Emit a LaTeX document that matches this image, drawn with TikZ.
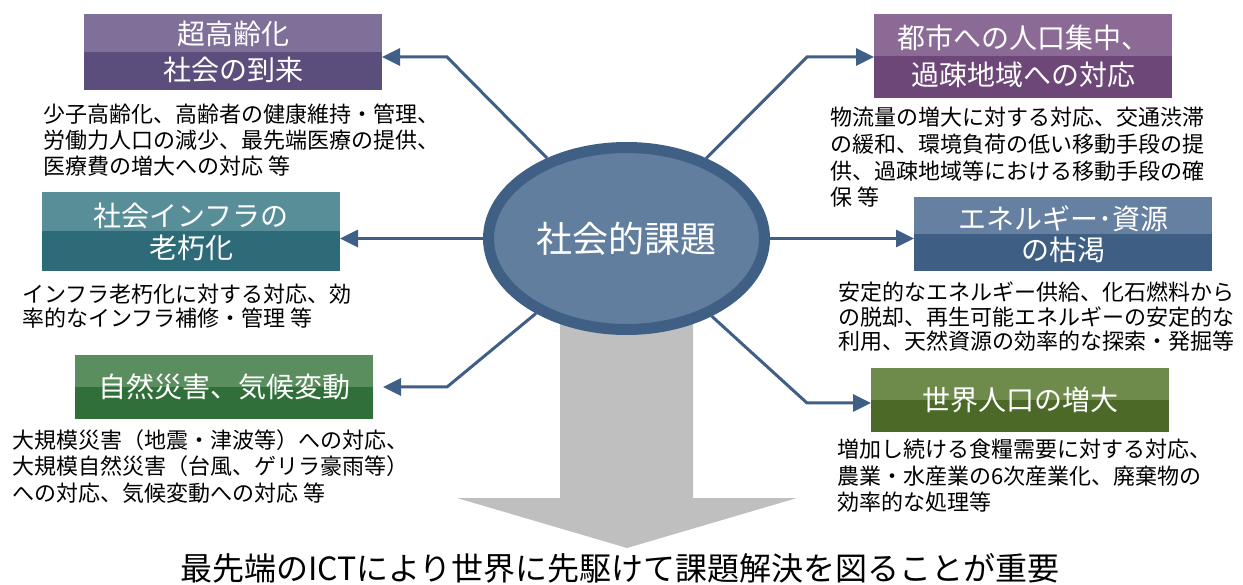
\documentclass[tikz,border=0pt]{standalone}
\usepackage{fontspec}
\setmainfont{Noto Sans CJK JP}
\usetikzlibrary{arrows.meta,shapes.geometric}
\definecolor{aT}{HTML}{7F7099}\definecolor{aB}{HTML}{5C4E7C}
\definecolor{bT}{HTML}{8B6B95}\definecolor{bB}{HTML}{6C4777}
\definecolor{cT}{HTML}{588E98}\definecolor{cB}{HTML}{2E6B78}
\definecolor{dT}{HTML}{6580A1}\definecolor{dB}{HTML}{3F5E83}
\definecolor{eT}{HTML}{5A8E5F}\definecolor{eB}{HTML}{306F39}
\definecolor{fT}{HTML}{6E8B4C}\definecolor{fB}{HTML}{4C6928}
\definecolor{lineb}{HTML}{3F5F87}
\definecolor{ellf}{HTML}{627E9E}
\definecolor{ellb}{HTML}{3F5F85}
\definecolor{grayarr}{HTML}{BFBFBF}
\tikzset{
  tbox/.style 2 args={fill=#2, minimum width=298pt, inner sep=0pt, outer sep=0pt,
    text=white, align=center, font=\fontsize{28}{36}\selectfont,
    path picture={\fill[#1] (path picture bounding box.north west) rectangle (path picture bounding box.east);}},
  desc/.style={anchor=north west, inner sep=0pt, align=left, text=black, font=\fontsize{22}{26}\selectfont},
  conn/.style={draw=lineb, line width=3pt, -{Triangle[length=18pt,width=17pt]}},
}
\begin{document}
\begin{tikzpicture}[x=1pt,y=-1pt]
\useasboundingbox (0,0) rectangle (1243,585);
% gray arrow
\fill[grayarr] (560,300) -- (693,300) -- (693,498) -- (797,498) -- (627,548) -- (457,498) -- (560,498) -- cycle;
% central ellipse
\node[ellipse, draw=ellb, line width=11pt, fill=ellf, minimum width=276pt, minimum height=182pt, inner sep=0pt,
      text=white, font=\fontsize{36}{40}\selectfont] (c) at (626.5,238.5) {社会的課題};
% boxes
\node[tbox={aT}{aB}, minimum height=76pt] (b1) at (233,52) {超高齢化\\社会の到来};
\node[tbox={bT}{bB}, minimum height=84pt, font=\fontsize{28}{37}\selectfont] (b2) at (1023,56) {都市への人口集中、\\過疎地域への対応};
\node[tbox={cT}{cB}, minimum height=79pt, font=\fontsize{28}{32}\selectfont] (b3) at (191,231.5) {社会インフラの\\老朽化};
\node[tbox={dT}{dB}, minimum height=74pt, font=\fontsize{28}{31}\selectfont] (b4) at (1063,234) {エネルギー･資源\\の枯渇};
\node[tbox={eT}{eB}, minimum height=64pt] (b5) at (224,387) {自然災害、気候変動};
\node[tbox={fT}{fB}, minimum height=64pt] (b6) at (1020,400) {世界人口の増大};
% descriptions
\node[desc] (d1) at (43,104) {少子高齢化、高齢者の健康維持・管理、\\労働力人口の減少、最先端医療の提供、\\医療費の増大への対応 等};
\node[desc, font=\fontsize{22}{26.7}\selectfont] (d2) at (830,107) {物流量の増大に対する対応、交通渋滞\\の緩和、環境負荷の低い移動手段の提\\供、過疎地域等における移動手段の確\\保 等};
\node[desc, font=\fontsize{22}{24}\selectfont] (d3) at (22,284) {インフラ老朽化に対する対応、効\\率的なインフラ補修・管理 等};
\node[desc, font=\fontsize{22}{24.5}\selectfont] (d4) at (838,282) {安定的なエネルギー供給、化石燃料から\\の脱却、再生可能エネルギーの安定的な\\利用、天然資源の効率的な探索・発掘等};
\node[desc, font=\fontsize{22}{26.5}\selectfont] (d5) at (12,429) {大規模災害（地震・津波等）への対応、\\大規模自然災害（台風、ゲリラ豪雨等）\\への対応、気候変動への対応 等};
\node[desc, font=\fontsize{22}{26.5}\selectfont] (d6) at (837,439) {増加し続ける食糧需要に対する対応、\\農業・水産業の6次産業化、廃棄物の\\効率的な処理等};
% connectors
\coordinate (k1) at (447,57);
\coordinate (k2) at (807,57);
\coordinate (k5) at (447,387);
\coordinate (k6) at (807,403);
\draw[conn] (c) -- (k1) -- (k1 -| b1.east);
\draw[conn] (c) -- (k2) -- (k2 -| b2.west);
\draw[conn] (c.west) -- (c.west -| b3.east);
\draw[conn] (c.east) -- (c.east -| b4.west);
\draw[conn, shorten >=10pt] (c) -- (k5) -- (k5 -| b5.east);
\draw[conn] (c) -- (k6) -- (k6 -| b6.west);
% bottom text
\node[inner sep=0pt, font=\fontsize{32}{36}\selectfont, text=black] (t) at (620,568) {最先端のICTにより世界に先駆けて課題解決を図ることが重要};
\end{tikzpicture}
\end{document}
